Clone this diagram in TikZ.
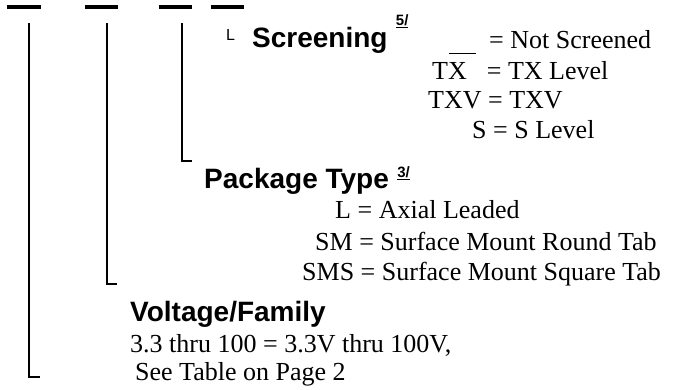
\documentclass[tikz,border=0pt]{standalone}
\usepackage{fontspec}
\setmainfont{Liberation Serif}
\setsansfont{Liberation Sans}
\usepackage{tikz}

\begin{document}
\begin{tikzpicture}[x=1bp, y=-1bp,
    digit/.style={fill=black, inner sep=0, minimum width=33bp, minimum height=4bp},
    lead/.style={line width=1.5bp},
    head/.style={font=\sffamily\bfseries\fontsize{28bp}{32bp}\selectfont, inner sep=0, anchor=base west},
    note/.style={font=\sffamily\bfseries\fontsize{15bp}{17bp}\selectfont, inner sep=0, anchor=base west},
    entry/.style={font=\fontsize{26bp}{30bp}\selectfont, inner sep=0, anchor=base west}]
    \useasboundingbox (0,0) rectangle (674,389);
    % part number fields
    \node[digit] at (24,7) (d1) {};
    \node[digit] at (101,7) (d2) {};
    \node[digit] at (175.5,7) (d3) {};
    \node[digit] at (227,7) (d4) {};
    \coordinate (s1) at (29,23);
    \coordinate (s2) at (107,23);
    \coordinate (s3) at (182,23);
    \coordinate (e1) at (40,377);
    \coordinate (e2) at (117,284);
    \coordinate (e3) at (192,161);
    \draw[lead] (s1) |- (e1);
    \draw[lead] (s2) |- (e2);
    \draw[lead] (s3) |- (e3);
    % screening
    \node[font=\sffamily\fontsize{16bp}{18bp}\selectfont, inner sep=0, anchor=base west] at (226,40) (scrmark) {L};
    \node[head] at (252,47) (scr) {Screening};
    \node[note] at ([xshift=8bp,yshift=22bp]scr.base east) (scrnote) {\underline{5/}};
    \node[entry] at (449,48) (scr1) {\rule[-6bp]{27bp}{1.5bp}\hspace{13bp}= Not Screened};
    \node[entry] at (432,79) (scr2) {TX\hspace{20bp}= TX Level};
    \node[entry] at (428,108) (scr3) {TXV = TXV};
    \node[entry] at (472,138) (scr4) {S = S Level};
    % package type
    \node[head] at (204,188) (pkg) {Package Type};
    \node[note] at ([xshift=8bp,yshift=11bp]pkg.base east) (pkgnote) {\underline{3/}};
    \node[entry] at (335,218) (pkg1) {L = Axial Leaded};
    \node[entry] at (315,250) (pkg2) {SM = Surface Mount Round Tab};
    \node[entry] at (302,280) (pkg3) {SMS = Surface Mount Square Tab};
    % voltage
    \node[head] at (130,321) (volt) {Voltage/Family};
    \node[entry] at (130,352) (volt1) {3.3 thru 100 = 3.3V thru 100V,};
    \node[entry] at (135,380) (volt2) {See Table on Page 2};
\end{tikzpicture}
\end{document}
